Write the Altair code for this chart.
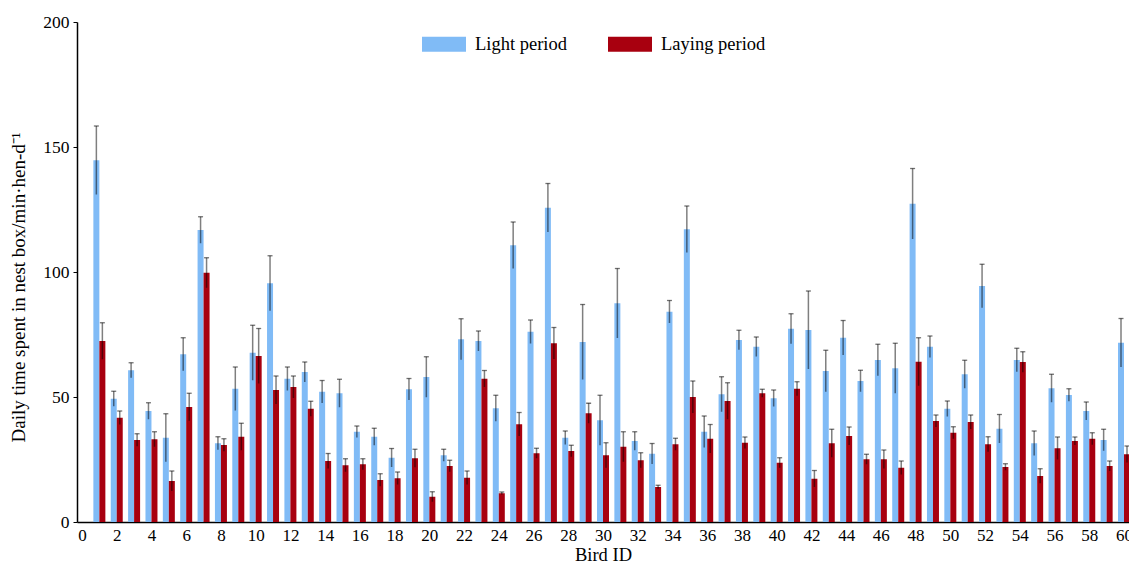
import altair as alt
import pandas as pd

birds = list(range(1, 61))

light_mean = [144.7, 49.3, 60.7, 44.4, 33.7, 67.1, 116.8, 31.5, 53.3, 67.7,
              95.5, 57.3, 60.0, 52.1, 51.5, 36.1, 34.1, 25.7, 53.1, 58.0,
              26.7, 73.1, 72.4, 45.5, 110.7, 76.1, 125.7, 33.7, 72.0, 40.7,
              87.5, 32.4, 27.3, 84.1, 117.1, 36.1, 51.1, 72.8, 70.1, 49.5,
              77.3, 76.8, 60.4, 73.7, 56.4, 64.8, 61.5, 127.3, 70.1, 45.3,
              59.1, 94.4, 37.3, 64.8, 31.5, 53.5, 50.8, 44.4, 32.8, 71.7]
light_err = [13.7, 3.0, 3.0, 3.3, 9.6, 6.6, 5.3, 2.6, 8.7, 11.0,
             11.0, 4.7, 4.0, 4.5, 5.6, 2.3, 3.4, 3.7, 4.3, 8.1,
             2.4, 8.2, 4.0, 5.2, 9.3, 4.7, 9.7, 2.7, 15.0, 10.0,
             13.9, 3.7, 4.1, 4.5, 9.3, 6.3, 7.0, 3.9, 3.9, 3.3,
             6.0, 15.6, 8.3, 6.9, 4.3, 6.3, 10.0, 14.1, 4.3, 3.1,
             5.6, 8.7, 5.7, 4.7, 4.9, 5.6, 2.5, 3.6, 4.3, 9.7]

lay_mean = [72.4, 41.7, 32.8, 33.1, 16.4, 46.0, 99.7, 30.8, 34.1, 66.4,
            52.8, 54.0, 45.3, 24.4, 22.7, 23.1, 16.8, 17.5, 25.5, 10.1,
            22.4, 17.7, 57.3, 11.5, 39.1, 27.5, 71.5, 28.4, 43.5, 26.7,
            30.1, 24.7, 14.0, 31.1, 50.0, 33.3, 48.4, 31.7, 51.5, 23.7,
            53.3, 17.3, 31.5, 34.4, 25.1, 25.1, 21.7, 64.1, 40.4, 35.7,
            40.0, 31.1, 22.0, 64.0, 18.4, 29.5, 32.4, 33.3, 22.4, 27.1]
lay_err = [7.3, 2.7, 2.5, 3.0, 4.0, 5.5, 6.0, 2.5, 5.4, 11.0,
           5.6, 4.4, 3.0, 3.0, 2.6, 2.2, 2.5, 2.5, 3.6, 2.0,
           2.3, 2.7, 3.3, 0.5, 4.7, 2.0, 6.3, 2.3, 4.0, 5.0,
           6.0, 3.0, 0.7, 2.4, 6.4, 5.7, 7.3, 2.3, 1.6, 2.0,
           2.8, 3.3, 5.6, 3.6, 2.0, 3.7, 2.7, 9.6, 2.4, 2.4,
           2.8, 3.0, 1.3, 4.1, 2.9, 4.5, 1.6, 2.4, 2.0, 3.3]

periods = ["Light period", "Laying period"]
colors = ["#80BBF6", "#A8000F"]
x_ticks = list(range(0, 61, 2))
y_ticks = [0, 50, 100, 150, 200]

df = pd.DataFrame({
    "bird": birds * 2,
    "period": [periods[0]] * 60 + [periods[1]] * 60,
    "mean": light_mean + lay_mean,
    "err": light_err + lay_err,
})

FONT = "Liberation Serif"

x_scale = alt.Scale(domain=[0, 60], nice=False, zero=True)
x_axis = alt.Axis(values=x_ticks, title="Bird ID", ticks=False,
                  labelPadding=5, grid=False, titleY=38.5,
                  titleBaseline="alphabetic", titleFontSize=18.5,
                  titleFontWeight="normal", labelFontSize=17,
                  labelOverlap=False, labelFont=FONT, titleFont=FONT,
                  labelAngle=0)
y_scale = alt.Scale(domain=[0, 200], nice=False)
y_axis = alt.Axis(values=y_ticks, title="Daily time spent in nest box/min·hen-d⁻¹",
                  tickSize=4, labelPadding=4, grid=False, titleX=-59, titleY=265,
                  titleAnchor="middle", titleBaseline="middle",
                  titleFontSize=19, titleFontWeight="normal", labelFontSize=17.5,
                  labelFont=FONT, titleFont=FONT, labelOverlap=False)

base = alt.Chart(df).transform_calculate(
    lo="datum.mean - datum.err", hi="datum.mean + datum.err")

color = alt.Color("period:N",
                  scale=alt.Scale(domain=periods, range=colors),
                  legend=alt.Legend(orient="none", legendX=345, legendY=0,
                                    direction="horizontal", title=None,
                                    symbolType="M-1,-0.34H1V0.34H-1Z",
                                    symbolSize=1936, symbolStrokeWidth=0,
                                    symbolOpacity=1,
                                    labelFont=FONT, labelFontSize=18.5,
                                    labelOffset=9, columnPadding=41,
                                    padding=0),
                  sort=periods)

layers = []
for p, off in zip(periods, [-3, 3]):
    sub = base.transform_filter(alt.datum.period == p)
    xe = alt.X("bird:Q", scale=x_scale, axis=x_axis)
    bars = sub.mark_bar(size=6, xOffset=off).encode(
        x=xe, y=alt.Y("mean:Q", scale=y_scale, axis=y_axis), color=color)
    rule = sub.mark_rule(xOffset=off, color="black", opacity=0.5, strokeWidth=1.5).encode(
        x=xe, y=alt.Y("lo:Q", scale=y_scale, axis=y_axis), y2="hi:Q")
    cap = sub.mark_tick(xOffset=off, orient="horizontal", size=5, thickness=1.3,
                        color="black", opacity=0.55).encode(
        x=xe, y=alt.Y("hi:Q", scale=y_scale, axis=y_axis))
    layers += [bars, rule, cap]

chart = alt.layer(*layers).properties(
    width=1052, height=500,
    autosize=alt.AutoSizeParams(type="none"),
    padding={"left": 69, "top": 14, "right": 0, "bottom": 41},
).configure(font=FONT).configure_view(stroke=None).configure_axis(
    labelFont=FONT, titleFont=FONT, domainColor="black", tickColor="black",
    labelColor="black", titleColor="black", domainWidth=1.5, labelOverlap=False,
).configure_legend(labelFont=FONT).configure_axisX(labelAngle=0)

chart.save("out.html", embed_options={"renderer": "svg", "actions": False})
